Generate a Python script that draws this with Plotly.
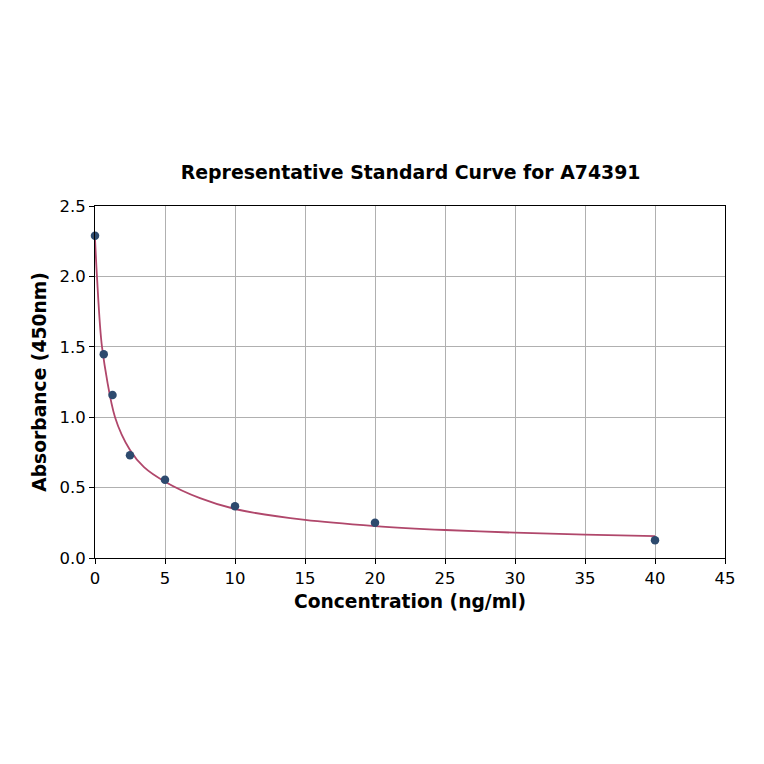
import plotly.graph_objects as go

# standard points
conc = [0, 0.625, 1.25, 2.5, 5, 10, 20, 40]
absorb = [2.289, 1.447, 1.158, 0.729, 0.556, 0.367, 0.251, 0.126]

# fitted curve
fit_x = [0, 0.14, 0.5, 1.43, 2.5, 3.5, 5, 7.5, 10, 15, 20, 25, 30, 35, 40]
fit_y = [2.27, 2.0, 1.5, 1.0, 0.767, 0.645, 0.542, 0.425, 0.348, 0.27, 0.227, 0.199, 0.18, 0.166, 0.156]

x_ticks = [0, 5, 10, 15, 20, 25, 30, 35, 40, 45]
y_ticks = [0.0, 0.5, 1.0, 1.5, 2.0, 2.5]

fig = go.Figure()
fig.add_trace(go.Scatter(
    x=fit_x, y=fit_y, mode="lines",
    line=dict(color="#b0476b", width=1.8, shape="spline", smoothing=0.8),
    hoverinfo="skip",
))
fig.add_trace(go.Scatter(
    x=conc, y=absorb, mode="markers",
    marker=dict(color="#2d4a6e", size=8.5),
    cliponaxis=False,
))

axis_common = dict(
    showline=True, linecolor="black", linewidth=1, mirror=True,
    ticks="outside", ticklen=5, tickcolor="black",
    showgrid=True, gridcolor="#b0b0b0", gridwidth=1,
    zeroline=False, tickfont=dict(size=16.5, color="black"),
)

# page is drawn with an 8px body offset, so margins are shifted by that much
fig.update_layout(
    width=764, height=764,
    margin=dict(l=87, r=47, t=198, b=214),
    paper_bgcolor="white", plot_bgcolor="white",
    font=dict(family="DejaVu Sans", color="black"),
    showlegend=False,
    title=dict(
        text="<b>Representative Standard Curve for A74391</b>",
        x=0.527, xanchor="center", y=0.785, yanchor="middle",
        font=dict(size=18.9, color="black"),
    ),
)
fig.update_xaxes(
    range=[0, 45], tickvals=x_ticks,
    title=dict(text="<b>Concentration (ng/ml)</b>", font=dict(size=18.7), standoff=8),
    **axis_common,
)
fig.update_yaxes(
    range=[0, 2.5], tickvals=y_ticks, tickformat=".1f",
    title=dict(text="<b>Absorbance (450nm)</b>", font=dict(size=18.7), standoff=7),
    **axis_common,
)

fig.write_html("out.html")
